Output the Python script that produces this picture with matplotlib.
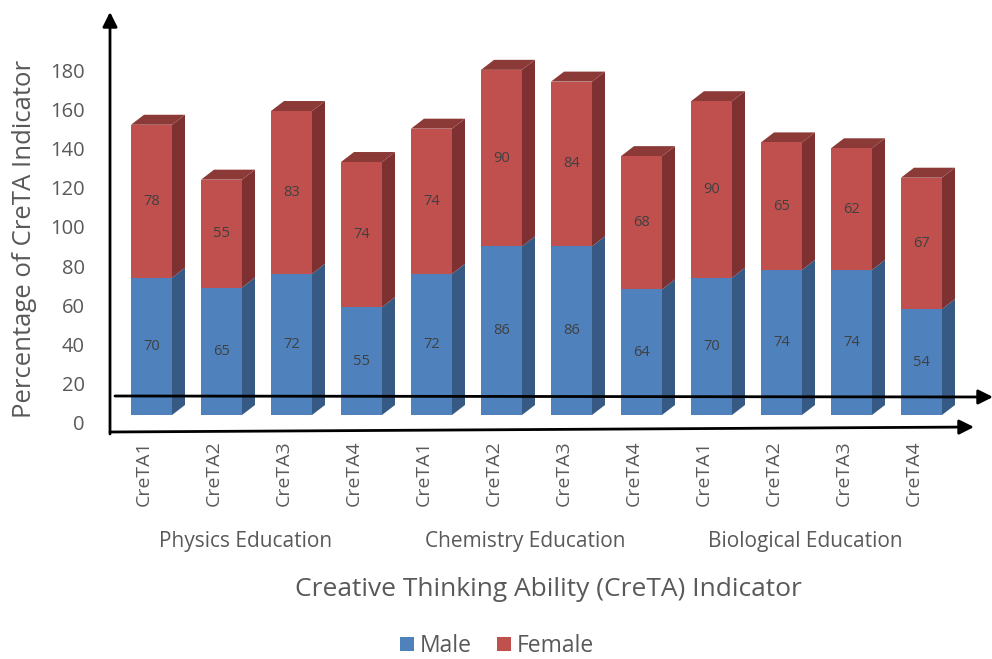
import matplotlib
matplotlib.use("Agg")
import matplotlib.pyplot as plt
import numpy as np
from matplotlib.patches import Polygon, Patch, FancyArrowPatch
from matplotlib.transforms import ScaledTranslation, blended_transform_factory

# ---- data ----
indicators = ["CreTA1", "CreTA2", "CreTA3", "CreTA4"] * 3
programs = ["Physics Education", "Chemistry Education", "Biological Education"]
male = [70, 65, 72, 55, 72, 86, 86, 64, 70, 74, 74, 54]
female = [78, 55, 83, 74, 74, 90, 84, 68, 90, 65, 62, 67]
yticks = list(range(0, 181, 20))

# ---- style ----
plt.rcParams["font.family"] = ["Open Sans", "DejaVu Sans"]
TXT = "#595959"
MALE_FRONT, MALE_SIDE = "#4F81BD", "#375A85"
FEM_FRONT, FEM_SIDE, FEM_TOP = "#C0504D", "#7E3130", "#8C3A38"

W, H, DPI = 992, 659, 100
fig = plt.figure(figsize=(W / DPI, H / DPI), dpi=DPI)

# plot area laid out in pixels
px_left, px_right, px_top, px_bottom = 110, 990, 13, 433
px_zero, px_per_unit = 423, (423 - 70) / 180.0
px_first, px_step = 151.5, 70.0

ax = fig.add_axes([px_left / W, 1 - px_bottom / H,
                   (px_right - px_left) / W, (px_bottom - px_top) / H])
ax.set_ylim((px_zero - px_bottom) / px_per_unit, (px_zero - px_top) / px_per_unit)
ax.set_xlim((px_left - px_first) / px_step, (px_right - px_first) / px_step)
for s in ax.spines.values():
    s.set_visible(False)

x = np.arange(len(male))
bar_w = 41 / px_step
depth_x = 13 / px_step
depth_y = 10 / px_per_unit
floor = 8 / px_per_unit  # front face sits slightly in front of the back wall

male_arr = np.array(male, float)
fem_arr = np.array(female, float)

ax.bar(x, male_arr, bottom=floor, width=bar_w, color=MALE_FRONT, zorder=3)
ax.bar(x, fem_arr, bottom=floor + male_arr, width=bar_w, color=FEM_FRONT, zorder=3)

def side_face(xc, y0, y1, color):
    xr = xc + bar_w / 2
    ax.add_patch(Polygon([(xr, y0), (xr + depth_x, y0 + depth_y),
                          (xr + depth_x, y1 + depth_y), (xr, y1)],
                         closed=True, facecolor=color, edgecolor="none", zorder=2))

for xi, m, f in zip(x, male_arr, fem_arr):
    side_face(xi, floor, floor + m, MALE_SIDE)
    side_face(xi, floor + m, floor + m + f, FEM_SIDE)
    top = floor + m + f
    xl, xr = xi - bar_w / 2, xi + bar_w / 2
    ax.add_patch(Polygon([(xl, top), (xr, top), (xr + depth_x, top + depth_y),
                          (xl + depth_x, top + depth_y)],
                         closed=True, facecolor=FEM_TOP, edgecolor="none", zorder=2))
    ax.text(xi, floor + m / 2, f"{int(m)}", ha="center", va="center",
            fontsize=10.5, color="#404040", zorder=4)
    ax.text(xi, floor + m + f / 2, f"{int(f)}", ha="center", va="center",
            fontsize=10.5, color="#404040", zorder=4)

# axes ticks
ax.set_yticks(yticks)
ax.set_yticklabels([str(v) for v in yticks], fontsize=14.5, color=TXT)
ax.tick_params(axis="y", length=0, pad=18)
ax.set_xticks(x)
ax.set_xticklabels(indicators, rotation=90, fontsize=14, color=TXT)
ax.tick_params(axis="x", length=0, pad=5)
shift = ScaledTranslation(-8 / DPI, 0, fig.dpi_scale_trans)
for lab in ax.get_xticklabels():
    lab.set_transform(lab.get_transform() + shift)

# program group labels
grp_tr = blended_transform_factory(ax.transData, fig.transFigure) + \
    ScaledTranslation(-11 / DPI, 0, fig.dpi_scale_trans)
for g, name in enumerate(programs):
    ax.text(x[g * 4:(g + 1) * 4].mean(), 1 - 541 / H, name, transform=grp_tr,
            ha="center", va="center", fontsize=15, color=TXT)

fig.text(548 / W, 1 - 590 / H, "Creative Thinking Ability (CreTA) Indicator",
         ha="center", va="center", fontsize=19, color=TXT)
fig.text(25 / W, 1 - 239 / H, "Percentage of CreTA Indicator", rotation=90,
         ha="center", va="center", fontsize=18.5, color=TXT)

# legend
handles = [Patch(facecolor=MALE_FRONT, label="Male"),
           Patch(facecolor=FEM_FRONT, label="Female")]
leg = fig.legend(handles=handles, loc="center", bbox_to_anchor=(497 / W, 1 - 646 / H),
                 ncol=2, frameon=False, fontsize=16.5, handlelength=0.6,
                 handleheight=0.6, handletextpad=0.25, columnspacing=1.1,
                 borderpad=0.1)
for t in leg.get_texts():
    t.set_color(TXT)

# hand-drawn axis arrows
def arrow(p0, p1):
    a = FancyArrowPatch((p0[0] / W, 1 - p0[1] / H), (p1[0] / W, 1 - p1[1] / H),
                        transform=fig.transFigure, arrowstyle="-|>",
                        mutation_scale=22, linewidth=2, color="black",
                        shrinkA=0, shrinkB=0, zorder=10)
    fig.add_artist(a)

arrow((110, 434), (110, 12))
arrow((110, 432), (974, 427))
arrow((115, 396), (993, 397))

fig.savefig("out.png", dpi=DPI)
